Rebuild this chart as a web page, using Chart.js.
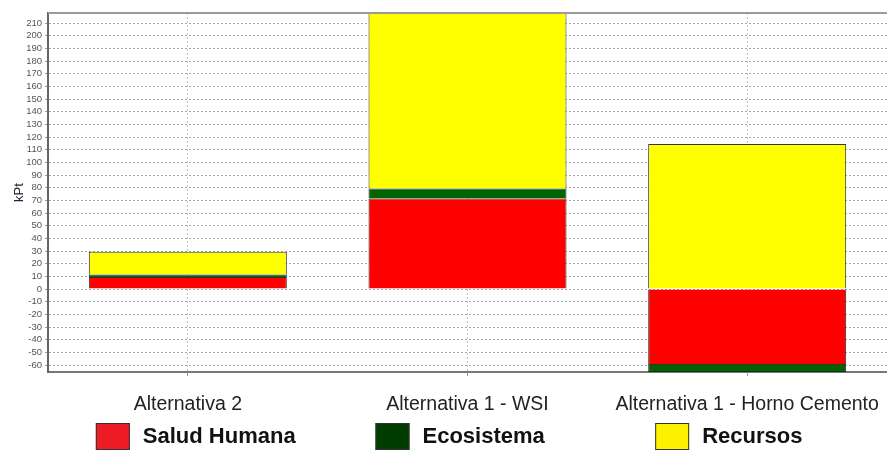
<!DOCTYPE html>
<html>
<head>
<meta charset="utf-8">
<script src="https://cdn.jsdelivr.net/npm/chart.js@4.4.1/dist/chart.umd.min.js"></script>
<style>
    html, body { margin: 0; padding: 0; background: #fff; }
    #wrap { width: 887px; height: 450px; position: relative; }
</style>
</head>
<body>
<div id="wrap"><canvas id="impactChart"></canvas></div>
<script>
// Data
const categories = ['Alternativa 2', 'Alternativa 1 - WSI', 'Alternativa 1 - Horno Cemento'];
const saludHumana = [9.5, 71.6, -60];
const ecosistema = [1.9, 7.9, -5.5];
const recursos = [18, 138.5, 114.5];
const yTicks = [-60, -50, -40, -30, -20, -10, 0, 10, 20, 30, 40, 50, 60, 70, 80, 90, 100,
    110, 120, 130, 140, 150, 160, 170, 180, 190, 200, 210];
const yMin = -65.5;
const yMax = 218;

const legendColors = ['#ed1c24', '#003d00', '#fff200'];

// Top frame line of the plot area
const framePlugin = {
    id: 'frame',
    afterDraw(chart) {
        const { ctx, chartArea } = chart;
        ctx.save();
        ctx.strokeStyle = '#9a9a9a';
        ctx.lineWidth = 2;
        ctx.beginPath();
        ctx.moveTo(chartArea.left, chartArea.top);
        ctx.lineTo(chartArea.right, chartArea.top);
        ctx.stroke();
        ctx.restore();
    }
};

// Legend drawn under each category
const legendPlugin = {
    id: 'bottomLegend',
    afterDraw(chart) {
        const { ctx } = chart;
        const xScale = chart.scales.x;
        ctx.save();
        chart.data.datasets.forEach((ds, i) => {
            const left = xScale.getPixelForValue(i) - 92;
            const top = 423;
            ctx.fillStyle = legendColors[i];
            ctx.fillRect(left, top, 34, 27);
            ctx.strokeStyle = '#333';
            ctx.lineWidth = 1;
            ctx.strokeRect(left + 0.5, top + 0.5, 33, 26);
            ctx.fillStyle = '#111';
            ctx.font = 'bold 22px "Liberation Sans", Arial, sans-serif';
            ctx.textBaseline = 'middle';
            ctx.textAlign = 'left';
            ctx.fillText(ds.label, left + 47, 437);
        });
        ctx.restore();
    }
};

new Chart(document.getElementById('impactChart'), {
    type: 'bar',
    data: {
        labels: categories,
        datasets: [
            { label: 'Salud Humana', data: saludHumana, backgroundColor: '#ff0000' },
            { label: 'Ecosistema', data: ecosistema, backgroundColor: '#006400' },
            { label: 'Recursos', data: recursos, backgroundColor: '#ffff00' }
        ]
    },
    options: {
        responsive: true,
        maintainAspectRatio: false,
        animation: false,
        layout: { padding: { top: 13, right: 0, bottom: 0, left: 0 } },
        datasets: {
            bar: {
                borderColor: 'rgba(30,30,30,0.9)',
                borderWidth: 1,
                categoryPercentage: 1,
                barPercentage: 0.708
            }
        },
        plugins: {
            legend: { display: false },
            tooltip: { enabled: false }
        },
        scales: {
            x: {
                stacked: true,
                afterFit(scale) {
                    scale.height = 78;
                    scale.paddingLeft = 0;
                    scale.paddingRight = 0;
                },
                grid: {
                    offset: false,
                    color: '#bdbdbd',
                    tickColor: '#999',
                    tickLength: 4
                },
                border: { color: '#777', width: 2, dash: [2, 2] },
                ticks: {
                    color: '#222',
                    padding: 17,
                    font: { family: '"Liberation Sans", Arial, sans-serif', size: 19.5 }
                }
            },
            y: {
                stacked: true,
                min: yMin,
                max: yMax,
                afterFit(scale) { scale.width = 48; },
                afterBuildTicks(scale) {
                    scale.ticks = yTicks.map(v => ({ value: v }));
                },
                title: {
                    display: true,
                    text: 'kPt',
                    color: '#223',
                    padding: { top: 12, bottom: 0 },
                    font: { family: '"Liberation Sans", Arial, sans-serif', size: 13 }
                },
                grid: {
                    color: '#a8a8a8',
                    tickColor: '#999',
                    tickLength: 3
                },
                border: { color: '#666', width: 2, dash: [2, 2] },
                ticks: {
                    autoSkip: false,
                    color: '#555',
                    padding: 3,
                    font: { family: '"Liberation Sans", Arial, sans-serif', size: 9.5 }
                }
            }
        }
    },
    plugins: [framePlugin, legendPlugin]
});
</script>
</body>
</html>
